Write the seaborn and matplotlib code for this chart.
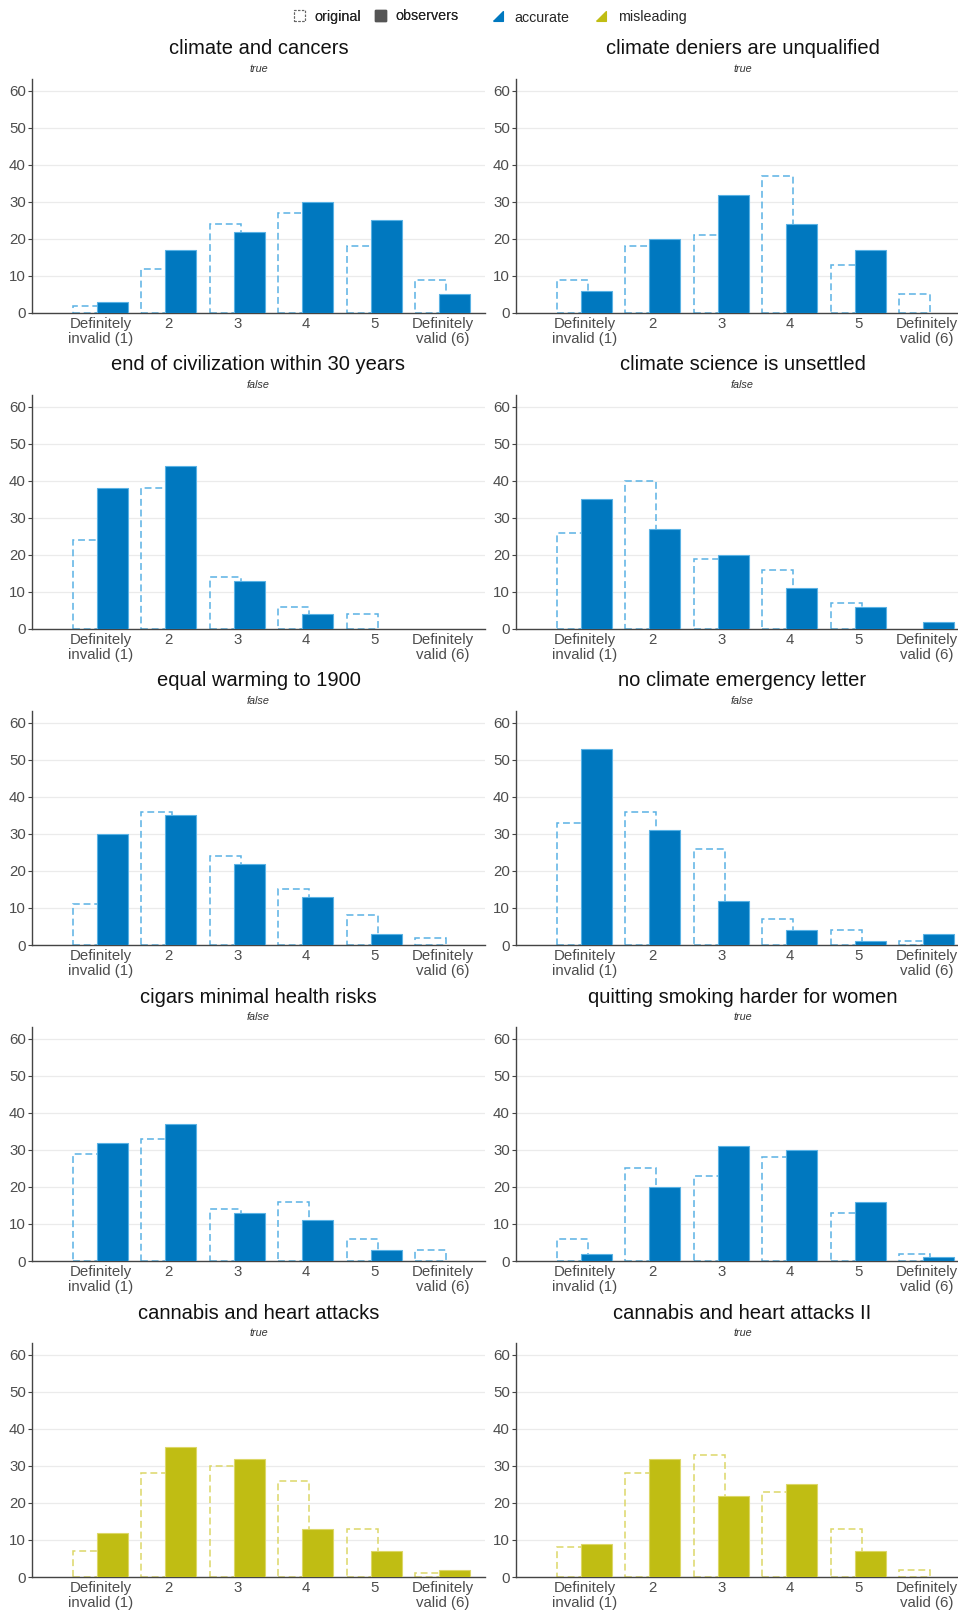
import numpy as np
import pandas as pd
import matplotlib
matplotlib.use("Agg")
import matplotlib.pyplot as plt
import seaborn as sns
from matplotlib.patches import Patch
from matplotlib.lines import Line2D

# ---------------- data ----------------
titles = [
    "climate and cancers", "climate deniers are unqualified",
    "end of civilization within 30 years", "climate science is unsettled",
    "equal warming to 1900", "no climate emergency letter",
    "cigars minimal health risks", "quitting smoking harder for women",
    "cannabis and heart attacks", "cannabis and heart attacks II",
]
verdicts = ["true", "true", "false", "false", "false", "false", "false", "true", "true", "true"]
kinds = ["accurate"] * 8 + ["misleading"] * 2
ratings = [1, 2, 3, 4, 5, 6]
tick_labels = ["Definitely\ninvalid (1)", "2", "3", "4", "5", "Definitely\nvalid (6)"]

original = [
    [2, 12, 24, 27, 18, 9],
    [9, 18, 21, 37, 13, 5],
    [24, 38, 14, 6, 4, 0],
    [26, 40, 19, 16, 7, 0],
    [11, 36, 24, 15, 8, 2],
    [33, 36, 26, 7, 4, 1],
    [29, 33, 14, 16, 6, 3],
    [6, 25, 23, 28, 13, 2],
    [7, 28, 30, 26, 13, 1],
    [8, 28, 33, 23, 13, 2],
]
observers = [
    [3, 17, 22, 30, 25, 5],
    [6, 20, 32, 24, 17, 0],
    [38, 44, 13, 4, 0, 0],
    [35, 27, 20, 11, 6, 2],
    [30, 35, 22, 13, 3, 0],
    [53, 31, 12, 4, 1, 3],
    [32, 37, 13, 11, 3, 0],
    [2, 20, 31, 30, 16, 1],
    [12, 35, 32, 13, 7, 2],
    [9, 32, 22, 25, 7, 0],
]

# ---------------- style ----------------
fill_colors = {"accurate": "#0078bf", "misleading": "#c0bd13"}
line_colors = {"accurate": "#5ab2e4", "misleading": "#dcd768"}

sns.set_theme(style="white")
plt.rcParams["font.family"] = ["Liberation Sans", "DejaVu Sans"]

W, H = 958, 1610
fig = plt.figure(figsize=(W / 100, H / 100), dpi=100)

OFF = 0.175
BW = 0.45

for i, title in enumerate(titles):
    row, col = divmod(i, 2)
    left = 32 if col == 0 else 516
    y0 = 313 + 316 * row
    ax = fig.add_axes([left / W, (H - y0) / H, 453 / W, 234 / H])

    df = pd.DataFrame({"rating": ratings, "original": original[i], "observers": observers[i]})
    d_o = df[df["original"] > 0]
    d_b = df[df["observers"] > 0]
    kind = kinds[i]

    sns.barplot(x=d_o["rating"] - OFF, y=d_o["original"], native_scale=True, width=BW,
                fill=False, color=line_colors[kind], linestyle=(0, (4.5, 2.5)),
                linewidth=1.1, errorbar=None, ax=ax, zorder=2)
    sns.barplot(x=d_b["rating"] + OFF, y=d_b["observers"], native_scale=True, width=BW,
                color=fill_colors[kind], saturation=1, edgecolor=line_colors[kind],
                linewidth=0.8, errorbar=None, ax=ax, zorder=3)

    ax.set_xlim(0, 6.62)
    ax.set_ylim(0, 63.2)
    ax.set_yticks([0, 10, 20, 30, 40, 50, 60])
    ax.set_xticks(ratings)
    ax.set_xticklabels(tick_labels, linespacing=1.08)
    ax.set_xlabel("")
    ax.set_ylabel("")
    ax.grid(axis="y", color="#ebebeb", linewidth=0.9, zorder=0)
    ax.grid(axis="x", visible=False)
    ax.set_axisbelow(True)
    for s in ["top", "right"]:
        ax.spines[s].set_visible(False)
    for s in ["left", "bottom"]:
        ax.spines[s].set_visible(True)
        ax.spines[s].set_color("#444444")
        ax.spines[s].set_linewidth(1.0)
    ax.tick_params(axis="y", left=True, length=3, width=0.8, color="#444444",
                   labelcolor="#4d4d4d", labelsize=10.8, pad=1.5)
    ax.tick_params(axis="x", bottom=False, length=0, labelcolor="#4d4d4d",
                   labelsize=10.8, pad=3)

    ax.annotate(title, xy=(0.5, 1), xycoords="axes fraction", xytext=(0, 21.6),
                textcoords="offset points", ha="center", va="center",
                fontsize=14.5, color="#111111")
    ax.annotate(verdicts[i], xy=(0.5, 1), xycoords="axes fraction", xytext=(0, 7.2),
                textcoords="offset points", ha="center", va="center",
                fontsize=7.8, style="italic", color="#333333")

# ---------------- legends ----------------
h1 = [Patch(facecolor="none", edgecolor="#666666", linestyle=(0, (2, 1.5)), linewidth=0.8),
      Patch(facecolor="#555555", edgecolor="#555555")]
leg1 = fig.legend(h1, ["original", "observers"], ncol=2, frameon=False, loc="center",
                  bbox_to_anchor=(376 / W, 1 - 16.5 / H), handlelength=0.8,
                  handleheight=0.8, handletextpad=0.6, columnspacing=1.0, fontsize=10.3)
fig.add_artist(leg1)

tri = [(-1, -1), (1, -1), (1, 1), (-1, -1)]
h2 = [Line2D([], [], marker=tri, color=fill_colors["accurate"], linestyle="none", markersize=7),
      Line2D([], [], marker=tri, color=fill_colors["misleading"], linestyle="none", markersize=7)]
fig.legend(h2, ["accurate", "misleading"], ncol=2, frameon=False, loc="center",
           bbox_to_anchor=(588 / W, 1 - 17.5 / H), handlelength=1.2,
           handletextpad=0.6, columnspacing=1.6, fontsize=10.3)

fig.savefig("out.png", dpi=100)
